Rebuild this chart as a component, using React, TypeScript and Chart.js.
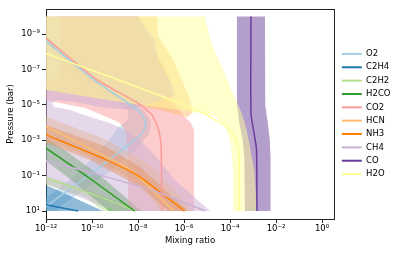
import React, { useEffect, useRef } from "react";
import { Chart, registerables } from "chart.js";

Chart.register(...registerables);

const FONT = "'DejaVu Sans', sans-serif";

const speciesNames = ["O2", "C2H4", "C2H2", "H2CO", "CO2", "HCN", "NH3", "CH4", "CO", "H2O"];
const speciesColors = ["#a6cee3", "#1f78b4", "#b2df8a", "#33a02c", "#fb9a99", "#fdbf6f", "#ff7f00", "#cab2d6", "#6a3d9a", "#ffff99"];

const xTickValues = [1e-12, 1e-10, 1e-8, 1e-6, 1e-4, 1e-2, 1];
const yTickValues = [1e-9, 1e-7, 1e-5, 1e-3, 1e-1, 1e1];

// All values are log10(pressure / bar) and log10(mixing ratio)
// O2
const o2P = [-10, -8.6, -6.4, -4.7, -4.15, -3.7, -3.3, -2.35, -1.05, 0.75, 1];
const o2X = [-13.4, -12, -9.9, -8.0, -7.7, -7.7, -7.9, -8.8, -10.1, -12.0, -12.15];
const o2Lo = [-13.75, -12.35, -10.25, -8.4, -8.45, -8.9, -9.1, -9.7, -10.7, -12.5, -12.6];
const o2Hi = [-13.1, -11.7, -9.6, -7.75, -7.45, -7.45, -7.55, -8.2, -9.4, -11.4, -11.5];
// C2H4
const c2h4P = [-0.6, 0.1, 0.66, 1];
const c2h4X = [-17, -14.4, -11.96, -10.6];
const c2h4BandP = [-2, -1.35, -0.47, 1];
const c2h4Lo = [-20, -20, -20, -20];
const c2h4Hi = [-16, -14, -12, -9.52];
// C2H2
const c2h2P = [-2.5, -1.7, -0.85, 0.2, 1];
const c2h2X = [-16.0, -14, -12, -9.65, -8.1];
const c2h2Lo = [-16.8, -14.8, -12.9, -10.3, -9.5];
const c2h2Hi = [-15.7, -13.7, -11.7, -9.35, -7.8];
// H2CO
const h2coP = [-4.3, -2.55, -0.85, 0.95, 1];
const h2coX = [-14, -12, -10.1, -8.2, -8.15];
const h2coLo = [-14.75, -12.75, -11.0, -9.3, -9.25];
const h2coHi = [-13.3, -11.3, -9.5, -7.9, -7.85];
// CO2
const co2P = [-10, -8.77, -6.46, -5.1, -4.42, -3.69, -2.73, 1];
const co2X = [-13.17, -12, -9.83, -8.0, -7.39, -7.13, -7.0, -6.96];
const co2BandP = [-10, -8.66, -7.53, -6.5, -6.1, -5.6, -5.27, -5.1, -4.82, -4.25, -3.97, -3.58, -2.45, 1];
const co2Lo = [-11.4, -11.4, -11.4, -11.45, -12.5, -13.0, -12, -11.39, -10.3, -9.22, -8.78, -8.57, -8.43, -8.43];
const co2Hi = [-8.0, -7.48, -7.04, -6.65, -6.6, -6.55, -6.5, -6.45, -6.3, -5.9, -5.7, -5.57, -5.57, -5.57];
// HCN (band outline as a closed contour)
const hcnP = [-4.6, -3.74, -2.3, -1.3, 1];
const hcnX = [-13.6, -11.96, -9.75, -8.3, -6.45];
const hcnPolyX = [-20, -7.17, -7.13, -6.48, -5.87, -5.74, -5.61, -5.83, -7.04, -8.78, -12, -20, -20, -11.96, -9.35, -7.48, -6.3, -5.7, -7.04, -7.91, -10.09, -11.96, -20];
const hcnPolyP = [-10, -10, -8.89, -7.59, -5.73, -5.27, -4.59, -4.31, -4.71, -5.16, -5.84, -6.3, -5.2, -4.31, -3.01, -1.6, 0, 1, 1, -0.58, -2.05, -3.01, -4.2];
// NH3
const nh3P = [-5, -4.2, -3.29, -1.88, -0.92, 0.94, 1];
const nh3X = [-15.2, -13.65, -11.96, -9.35, -7.91, -6.04, -5.97];
const nh3BandP = [-5, -4.2, -3.86, -3.29, -2.84, -2.62, -1.88, -1.49, -0.92, -0.36, 0.94, 1];
const nh3Lo = [-16.2, -14.6, -13.95, -12.84, -11.96, -11.53, -10.09, -9.53, -8.71, -7.91, -6.74, -6.7];
const nh3Hi = [-14.36, -12.67, -11.96, -10.76, -9.82, -9.35, -8.41, -7.91, -7.43, -6.96, -5.87, -5.82];
// CH4 (band outline as a closed contour)
const ch4P = [-3.3, -2.56, -1.83, -1.03, -0.02, 1];
const ch4X = [-16, -14, -12, -9.65, -7.04, -5.09];
const ch4PolyX = [-20, -8.0, -7.26, -7.13, -6.52, -6.39, -8.35, -9.65, -10.74, -11.48, -11.74, -11.65, -10.96, -10.09, -9.22, -8.57, -7.91, -7.48, -6.39, -4.87, -8.96, -9.6, -12, -14, -20];
const ch4PolyP = [-10, -10, -8.66, -7.53, -6.12, -5.55, -4.71, -4.88, -5.16, -5.27, -5.1, -4.88, -4.71, -4.31, -3.97, -3.58, -3.01, -2.45, -0.75, 1, 1, 0.72, -0.55, -1.2, -2.6];
// CO
const coP = [-10, -4.5, -3.5, -2.5, 1];
const coX = [-3.09, -3.09, -2.97, -2.85, -2.83];
const coBandP = [-10, -5, -4, -3, -2, 1];
const coLo = [-3.7, -3.7, -3.6, -3.45, -3.38, -3.35];
const coHi = [-2.48, -2.47, -2.36, -2.27, -2.24, -2.22];
// H2O
const h2oP = [-10, -9, -8, -7, -6, -5, -4.5, -4.1, -3.8, -3.4, -2.7, -2, 1];
const h2oX = [-16.4, -14.3, -12.2, -10.1, -8.0, -6.0, -5.1, -4.6, -4.2, -3.88, -3.66, -3.6, -3.6];
const h2oBandP = [-10, -8.77, -8, -7, -6.2, -5.84, -5.16, -4.54, -4.37, -3.69, -2.73, -1.32, 1];
const h2oLo = [-20, -20, -20, -20, -13.7, -12, -8.78, -5.3, -4.65, -4.17, -3.96, -3.87, -3.87];
const h2oHi = [-5.09, -4.87, -4.65, -4.3, -4.05, -3.95, -3.7, -3.5, -3.45, -3.3, -3.15, -2.95, -2.83];

type Profile = { p: number[]; x: number[]; bp?: number[]; lo?: number[]; hi?: number[]; polyX?: number[]; polyP?: number[] };

const profiles: Profile[] = [
  { p: o2P, x: o2X, bp: o2P, lo: o2Lo, hi: o2Hi },
  { p: c2h4P, x: c2h4X, bp: c2h4BandP, lo: c2h4Lo, hi: c2h4Hi },
  { p: c2h2P, x: c2h2X, bp: c2h2P, lo: c2h2Lo, hi: c2h2Hi },
  { p: h2coP, x: h2coX, bp: h2coP, lo: h2coLo, hi: h2coHi },
  { p: co2P, x: co2X, bp: co2BandP, lo: co2Lo, hi: co2Hi },
  { p: hcnP, x: hcnX, polyX: hcnPolyX, polyP: hcnPolyP },
  { p: nh3P, x: nh3X, bp: nh3BandP, lo: nh3Lo, hi: nh3Hi },
  { p: ch4P, x: ch4X, polyX: ch4PolyX, polyP: ch4PolyP },
  { p: coP, x: coX, bp: coBandP, lo: coLo, hi: coHi },
  { p: h2oP, x: h2oX, bp: h2oBandP, lo: h2oLo, hi: h2oHi },
];

const SUP: Record<string, string> = { "-": "\u207b", "0": "\u2070", "1": "\u00b9", "2": "\u00b2", "3": "\u00b3", "4": "\u2074", "5": "\u2075", "6": "\u2076", "7": "\u2077", "8": "\u2078", "9": "\u2079" };
const fmtPow = (v: number) => {
  const e = Math.round(Math.log10(v));
  return "10" + String(e).split("").map((c) => SUP[c] || c).join("");
};

const rgba = (hex: string, a: number) => {
  const n = parseInt(hex.slice(1), 16);
  return `rgba(${(n >> 16) & 255},${(n >> 8) & 255},${n & 255},${a})`;
};

const legendPlugin = {
  id: "legendFix",
  beforeLayout(chart: any) {
    const lg = chart.legend;
    if (lg && !lg.__patched) {
      const orig = lg.fit;
      lg.fit = function () {
        orig.call(this);
        this.width = 81;
      };
      lg.__patched = true;
    }
  },
  afterLayout(chart: any) {
    const lg = chart.legend;
    if (lg) {
      lg.left += 3;
      lg.right += 3;
    }
  },
};

export default function App() {
  const ref = useRef<HTMLCanvasElement>(null);
  useEffect(() => {
    document.body.style.margin = "0";
    const bands: any[] = [];
    const lines: any[] = [];
    profiles.forEach((pr, i) => {
      const col = speciesColors[i];
      let poly: { x: number; y: number }[];
      if (pr.polyX && pr.polyP) {
        poly = pr.polyX.map((lx, k) => ({ x: 10 ** lx, y: 10 ** pr.polyP![k] }));
      } else {
        const lower = pr.bp!.map((p, k) => ({ x: 10 ** pr.lo![k], y: 10 ** p }));
        const upper = pr.bp!.map((p, k) => ({ x: 10 ** pr.hi![k], y: 10 ** p })).reverse();
        poly = [...lower, ...upper];
      }
      bands.push({
        label: speciesNames[i] + " band",
        data: poly,
        fill: "shape",
        backgroundColor: rgba(col, 0.5),
        borderColor: "rgba(0,0,0,0)",
        borderWidth: 0,
        pointRadius: 0,
        tension: 0,
      });
      lines.push({
        label: speciesNames[i],
        isLine: true,
        data: pr.p.map((p, k) => ({ x: 10 ** pr.x[k], y: 10 ** p })),
        fill: false,
        borderColor: col,
        backgroundColor: col,
        borderWidth: 1.5,
        pointRadius: 0,
        tension: 0.2,
      });
    });
    const datasets = [...bands, ...lines];
    datasets.forEach((d, i) => (d.order = -i));

    const font = { family: FONT, size: 8.5 };
    const axisCommon = {
      grid: { drawOnChartArea: false, tickLength: 4, color: "#222", tickColor: "#222", tickWidth: 1 },
      border: { color: "#222", width: 1 },
    };

    const chart = new Chart(ref.current as HTMLCanvasElement, {
      type: "line",
      data: { datasets },
      options: {
        animation: false,
        responsive: false,
        devicePixelRatio: 1,
        layout: { padding: { top: 9, left: 0, right: 0, bottom: 0 } },
        elements: { point: { radius: 0 }, line: { capBezierPoints: false } },
        plugins: {
          tooltip: { enabled: false },
          legend: {
            position: "right",
            align: "center",
            fullSize: false,
            labels: {
              boxWidth: 20,
              boxHeight: 2,
              padding: 4.85,
              color: "#000",
              font,
              generateLabels: (c: any) =>
                c.data.datasets.map((ds: any, i: number) => ({
                  text: ds.label,
                  fillStyle: ds.borderColor,
                  strokeStyle: ds.borderColor,
                  lineWidth: 0,
                  hidden: false,
                  datasetIndex: i,
                })),
              filter: (item: any, data: any) => !!data.datasets[item.datasetIndex].isLine,
              sort: (a: any, b: any) => a.datasetIndex - b.datasetIndex,
            },
          },
        },
        scales: {
          x: {
            type: "logarithmic",
            position: "bottom",
            min: 1e-12,
            max: 10 ** 0.52,
            bounds: "data",
            afterBuildTicks: (s: any) => {
              s.ticks = xTickValues.map((v) => ({ value: v }));
            },
            afterFit: (s: any) => {
              s.height = 38;
            },
            ticks: { callback: (v: any) => fmtPow(Number(v)), font, color: "#000", padding: 1, maxRotation: 0, autoSkip: false },
            title: { display: true, text: "Mixing ratio", font, color: "#000", padding: { top: 0, bottom: 11 } },
            ...axisCommon,
          } as any,
          y: {
            type: "logarithmic",
            position: "left",
            reverse: true,
            min: 10 ** -10.42,
            max: 10 ** 1.45,
            bounds: "data",
            afterBuildTicks: (s: any) => {
              s.ticks = yTickValues.map((v) => ({ value: v }));
            },
            afterFit: (s: any) => {
              s.width = 46;
            },
            ticks: { callback: (v: any) => fmtPow(Number(v)), font, color: "#000", padding: 2, autoSkip: false },
            title: { display: true, text: "Pressure (bar)", font, color: "#000", padding: { top: 6, bottom: 0 } },
            ...axisCommon,
          } as any,
          x2: {
            type: "linear",
            position: "top",
            min: 0,
            max: 1,
            ticks: { display: false },
            grid: { display: false },
            border: { color: "#222", width: 1 },
            afterFit: (s: any) => {
              s.height = 0;
            },
          } as any,
          y2: {
            type: "linear",
            position: "right",
            min: 0,
            max: 1,
            ticks: { display: false },
            grid: { display: false },
            border: { color: "#222", width: 1 },
            afterFit: (s: any) => {
              s.width = 0;
            },
          } as any,
        },
      },
      plugins: [legendPlugin],
    } as any);
    return () => chart.destroy();
  }, []);
  return (
    <div style={{ position: "absolute", left: 0, top: 0, width: 415, height: 257 }}>
      <canvas ref={ref} width={415} height={257} />
    </div>
  );
}
